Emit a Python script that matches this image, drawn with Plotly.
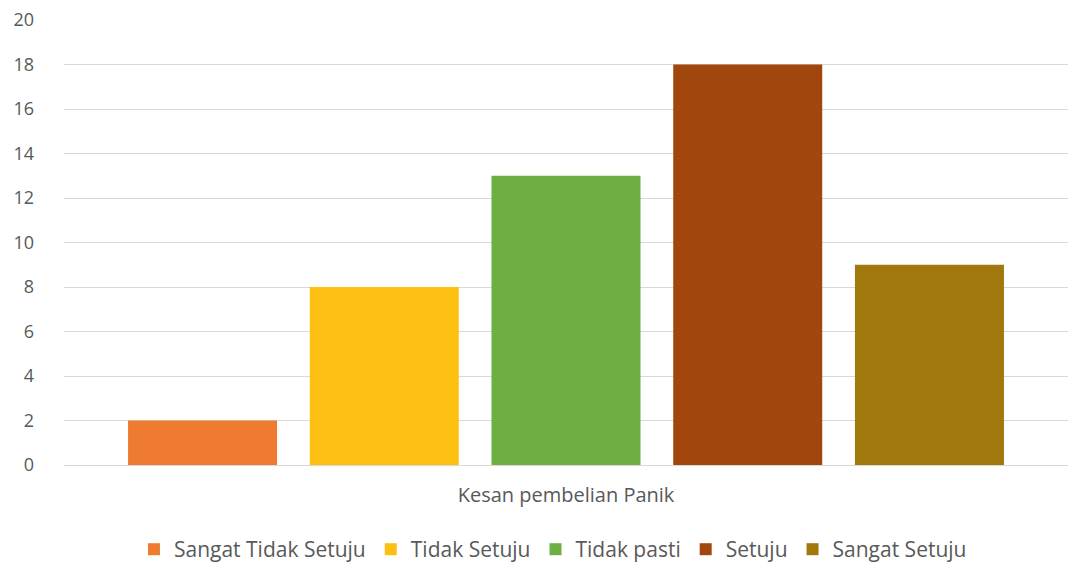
import plotly.graph_objects as go

category = ["Kesan pembelian Panik"]
series_names = ["Sangat Tidak Setuju", "Tidak Setuju", "Tidak pasti", "Setuju", "Sangat Setuju"]
series_values = [2, 8, 13, 18, 9]
series_colors = ["#EF7B30", "#FDC012", "#6EAF44", "#A1470D", "#A0780C"]
y_ticks = [0, 2, 4, 6, 8, 10, 12, 14, 16, 18, 20]

fig = go.Figure()
for name, val, col in zip(series_names, series_values, series_colors):
    fig.add_trace(go.Bar(
        x=category, y=[val], name=name,
        marker=dict(color=col, line=dict(width=0)),
    ))

fig.update_layout(
    width=1068, height=563,
    margin=dict(l=64, r=0, t=20, b=98, autoexpand=False),
    paper_bgcolor="white", plot_bgcolor="white",
    barmode="group", bargap=0.095, bargroupgap=0.18,
    font=dict(family="Open Sans, Liberation Sans, sans-serif", size=18, color="#595959"),
    showlegend=True,
    legend=dict(orientation="h", x=0.487, xanchor="center", y=-0.19, yanchor="middle",
                font=dict(size=21, color="#595959"), itemwidth=30, traceorder="normal"),
    xaxis=dict(showgrid=False, showline=False, ticks="", tickfont=dict(size=20, color="#595959"),
               ticklabelstandoff=16),
    yaxis=dict(range=[0, 20], tickvals=y_ticks, showgrid=True, gridcolor="#D9D9D9", gridwidth=1,
               zeroline=True, zerolinecolor="#D9D9D9", zerolinewidth=1,
               ticks="", tickfont=dict(size=18, color="#595959"), ticklabelstandoff=29),
)

fig.write_html("out.html")
